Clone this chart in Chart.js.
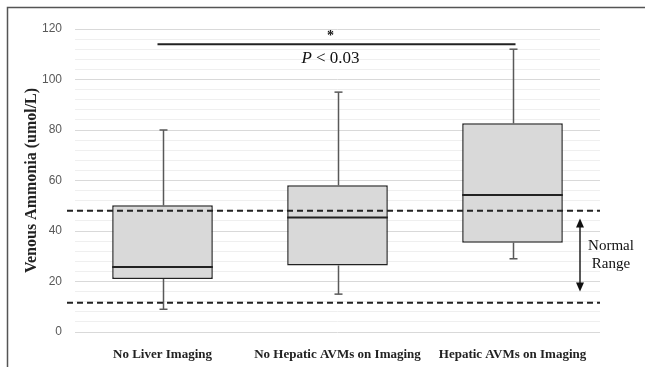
<!DOCTYPE html>
<html>
<head>
<meta charset="utf-8">
<script src="https://cdn.jsdelivr.net/npm/chart.js@4"></script>
<style>
  html, body { margin: 0; padding: 0; background: #fff; }
  #wrap { width: 645px; height: 367px; }
</style>
</head>
<body>
<div id="wrap"><canvas id="myChart"></canvas></div>
<script>
// data
const categories = ["No Liver Imaging", "No Hepatic AVMs on Imaging", "Hepatic AVMs on Imaging"];
const whiskerMin = [9, 15, 29];
const q1Values = [21, 26.3, 35.3];
const medianValues = [25.7, 45.3, 54.3];
const q3Values = [50.2, 58.1, 82.7];
const whiskerMax = [80, 95, 112];
const normalRange = [11.6, 48];   // dashed reference lines
const arrowRange = [16, 45];      // double-headed arrow
const sigBarValue = 114;
const yTicks = [0, 20, 40, 60, 80, 100, 120];

const ink = "#222";

const boxPlugin = {
    id: "boxExtras",
    beforeDraw(chart) {
        const c = chart.ctx;
        c.save();
        c.strokeStyle = "#555";
        c.lineWidth = 1.5;
        c.beginPath();
        c.moveTo(7.5, 367);
        c.lineTo(7.5, 7.5);
        c.lineTo(645, 7.5);
        c.stroke();
        c.restore();
    },
    beforeDatasetsDraw(chart) {
        const c = chart.ctx;
        const y = chart.scales.y;
        const meta = chart.getDatasetMeta(0);
        c.save();
        // whiskers
        c.strokeStyle = "#595959";
        c.lineWidth = 1.5;
        meta.data.forEach((bar, i) => {
            const x = Math.round(bar.x) + 0.5;
            c.beginPath();
            c.moveTo(x, y.getPixelForValue(q3Values[i]));
            c.lineTo(x, y.getPixelForValue(whiskerMax[i]));
            c.moveTo(x, y.getPixelForValue(q1Values[i]));
            c.lineTo(x, y.getPixelForValue(whiskerMin[i]));
            c.stroke();
            [whiskerMin[i], whiskerMax[i]].forEach(v => {
                const py = y.getPixelForValue(v);
                c.beginPath();
                c.moveTo(x - 4, py);
                c.lineTo(x + 4, py);
                c.stroke();
            });
        });
        c.restore();
    },
    afterDatasetsDraw(chart) {
        const c = chart.ctx;
        const x = chart.scales.x;
        const y = chart.scales.y;
        const area = chart.chartArea;
        const meta = chart.getDatasetMeta(0);
        c.save();
        // medians
        c.strokeStyle = ink;
        c.lineWidth = 2;
        meta.data.forEach((bar, i) => {
            const py = y.getPixelForValue(medianValues[i]);
            c.beginPath();
            c.moveTo(bar.x - bar.width / 2, py);
            c.lineTo(bar.x + bar.width / 2, py);
            c.stroke();
        });
        // normal range dashed lines
        c.setLineDash([6, 4]);
        c.lineWidth = 2;
        normalRange.forEach(v => {
            const py = y.getPixelForValue(v);
            c.beginPath();
            c.moveTo(area.left - 8, py);
            c.lineTo(area.right, py);
            c.stroke();
        });
        c.setLineDash([]);
        // arrow
        const ax = area.right - 20;
        const aTop = y.getPixelForValue(arrowRange[1]);
        const aBot = y.getPixelForValue(arrowRange[0]);
        c.lineWidth = 1.5;
        c.beginPath();
        c.moveTo(ax, aTop + 6);
        c.lineTo(ax, aBot - 6);
        c.stroke();
        c.fillStyle = "#111";
        c.beginPath();
        c.moveTo(ax, aTop);
        c.lineTo(ax - 4, aTop + 9);
        c.lineTo(ax + 4, aTop + 9);
        c.closePath();
        c.fill();
        c.beginPath();
        c.moveTo(ax, aBot);
        c.lineTo(ax - 4, aBot - 9);
        c.lineTo(ax + 4, aBot - 9);
        c.closePath();
        c.fill();
        c.font = "15px 'Liberation Serif'";
        c.textAlign = "center";
        c.textBaseline = "middle";
        c.fillText("Normal", area.right + 11, (aTop + aBot) / 2 - 9);
        c.fillText("Range", area.right + 11, (aTop + aBot) / 2 + 9);
        // significance bar
        const sy = y.getPixelForValue(sigBarValue);
        const x0 = x.getPixelForValue(0) - 5;
        const x1 = x.getPixelForValue(2) + 3;
        c.lineWidth = 2;
        c.beginPath();
        c.moveTo(x0, sy);
        c.lineTo(x1, sy);
        c.stroke();
        const mid = (x0 + x1) / 2 - 6;
        c.font = "bold 14px 'Liberation Serif'";
        c.fillText("*", mid, sy - 8);
        const rest = " < 0.03";
        c.textAlign = "left";
        c.font = "italic 17px 'Liberation Serif'";
        const wP = c.measureText("P").width;
        c.font = "17px 'Liberation Serif'";
        const wR = c.measureText(rest).width;
        const start = mid - (wP + wR) / 2;
        c.font = "italic 17px 'Liberation Serif'";
        c.fillText("P", start, sy + 14);
        c.font = "17px 'Liberation Serif'";
        c.fillText(rest, start + wP, sy + 14);
        c.restore();
    }
};

new Chart(document.getElementById("myChart"), {
    type: "bar",
    data: {
        labels: categories,
        datasets: [{
            data: categories.map((_, i) => [q1Values[i], q3Values[i]]),
            backgroundColor: "#d9d9d9",
            borderColor: ink,
            borderWidth: 1.5,
            borderSkipped: false,
            barPercentage: 0.575,
            categoryPercentage: 1
        }]
    },
    options: {
        responsive: true,
        maintainAspectRatio: false,
        animation: false,
        layout: { padding: { top: 29, right: 45, bottom: 0, left: 0 } },
        plugins: { legend: { display: false }, tooltip: { enabled: false } },
        scales: {
            x: {
                grid: { display: false },
                border: { display: false },
                ticks: {
                    color: ink,
                    padding: 7,
                    maxRotation: 0,
                    font: { family: "'Liberation Serif'", size: 13, weight: "bold" }
                },
                afterFit(scale) { scale.height = 35; }
            },
            y: {
                min: 0,
                max: 120,
                border: { display: false },
                grid: {
                    drawTicks: false,
                    color: ctx => yTicks.includes(ctx.tick.value) ? "#d9d9d9" : "#efefef",
                    lineWidth: 1
                },
                ticks: {
                    stepSize: 4,
                    autoSkip: false,
                    padding: 13,
                    color: "#595959",
                    font: { family: "'Liberation Sans'", size: 12 },
                    callback: v => yTicks.includes(v) ? v : ""
                },
                title: {
                    display: true,
                    text: "Venous Ammonia (umol/L)",
                    color: ink,
                    padding: { top: 22, bottom: 0 },
                    font: { family: "'Liberation Serif'", size: 16, weight: "bold" }
                },
                afterFit(scale) { scale.width = 75; }
            }
        }
    },
    plugins: [boxPlugin]
});
</script>
</body>
</html>
